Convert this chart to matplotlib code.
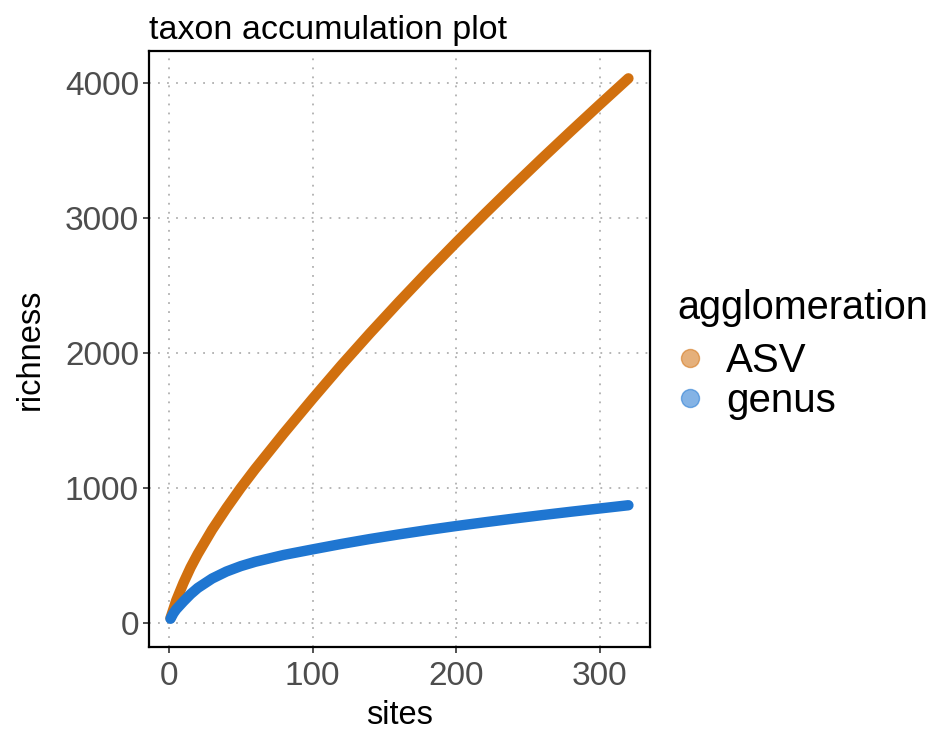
import matplotlib
matplotlib.use("Agg")
import matplotlib.pyplot as plt
from matplotlib.lines import Line2D

plt.rcParams['font.family'] = ['Liberation Sans', 'DejaVu Sans']

# rarefied richness
asv_sites = [1, 5, 10, 15, 20, 30, 40, 50, 60, 80, 100, 120, 140, 160, 180,
             200, 220, 240, 260, 280, 300, 320]
asv_rich = [35, 165, 295, 410, 510, 690, 850, 1000, 1140, 1405, 1660, 1908,
            2146, 2376, 2600, 2818, 3031, 3239, 3443, 3643, 3840, 4034]

genus_sites = [1, 3, 5, 10, 15, 20, 30, 40, 50, 60, 80, 100, 120, 140, 160,
               180, 200, 220, 240, 260, 280, 300, 320]
genus_rich = [30, 70, 100, 158, 212, 258, 328, 380, 420, 452, 503, 544, 584,
              621, 655, 687, 717, 745, 772, 798, 823, 847, 871]

x_ticks = [0, 100, 200, 300]
y_ticks = [0, 1000, 2000, 3000, 4000]

col_asv = '#d1700f'
col_genus = '#1f76d1'

fig = plt.figure(figsize=(9.41, 7.32), dpi=100)
ax = fig.add_axes([0.158, 0.116, 0.533, 0.814])

ax.plot(asv_sites, asv_rich, color=col_asv, lw=7.5, solid_capstyle='round',
        solid_joinstyle='round', zorder=3)
ax.plot(genus_sites, genus_rich, color=col_genus, lw=7.5, solid_capstyle='round',
        solid_joinstyle='round', zorder=4)

ax.set_xlim(-14.2, 335.2)
ax.set_ylim(-180, 4235)
ax.set_xticks(x_ticks)
ax.set_yticks(y_ticks)
ax.grid(True, linestyle=(0, (1, 4)), color='#b0b0b0', lw=1.3)
ax.set_axisbelow(True)
for s in ax.spines.values():
    s.set_linewidth(1.6)
    s.set_color('black')
ax.tick_params(labelsize=24, colors='#4d4d4d', length=4, width=1.2, pad=3)
ax.tick_params(axis='x', pad=6)
ax.tick_params(color='#333333')

ax.set_xlabel('sites', fontsize=23.5, labelpad=6)
ax.set_ylabel('richness', fontsize=23.5, labelpad=14)
ax.set_title('taxon accumulation plot', fontsize=24.5, loc='left', pad=9)

handles = [
    Line2D([], [], marker='o', ls='', markersize=13, markerfacecolor=col_asv,
           markeredgecolor=col_asv, alpha=0.55, label='ASV'),
    Line2D([], [], marker='o', ls='', markersize=13, markerfacecolor=col_genus,
           markeredgecolor=col_genus, alpha=0.55, label='genus'),
]
leg = fig.legend(handles=handles, title='agglomeration', loc='upper left',
                 bbox_to_anchor=(0.72, 0.605), frameon=False, fontsize=29,
                 title_fontsize=28.5, handletextpad=0.6, labelspacing=0.03,
                 borderaxespad=0, borderpad=0, handlelength=0.6)
leg._legend_box.align = 'left'
leg._legend_box.sep = 11

fig.savefig('out.png', dpi=100)
